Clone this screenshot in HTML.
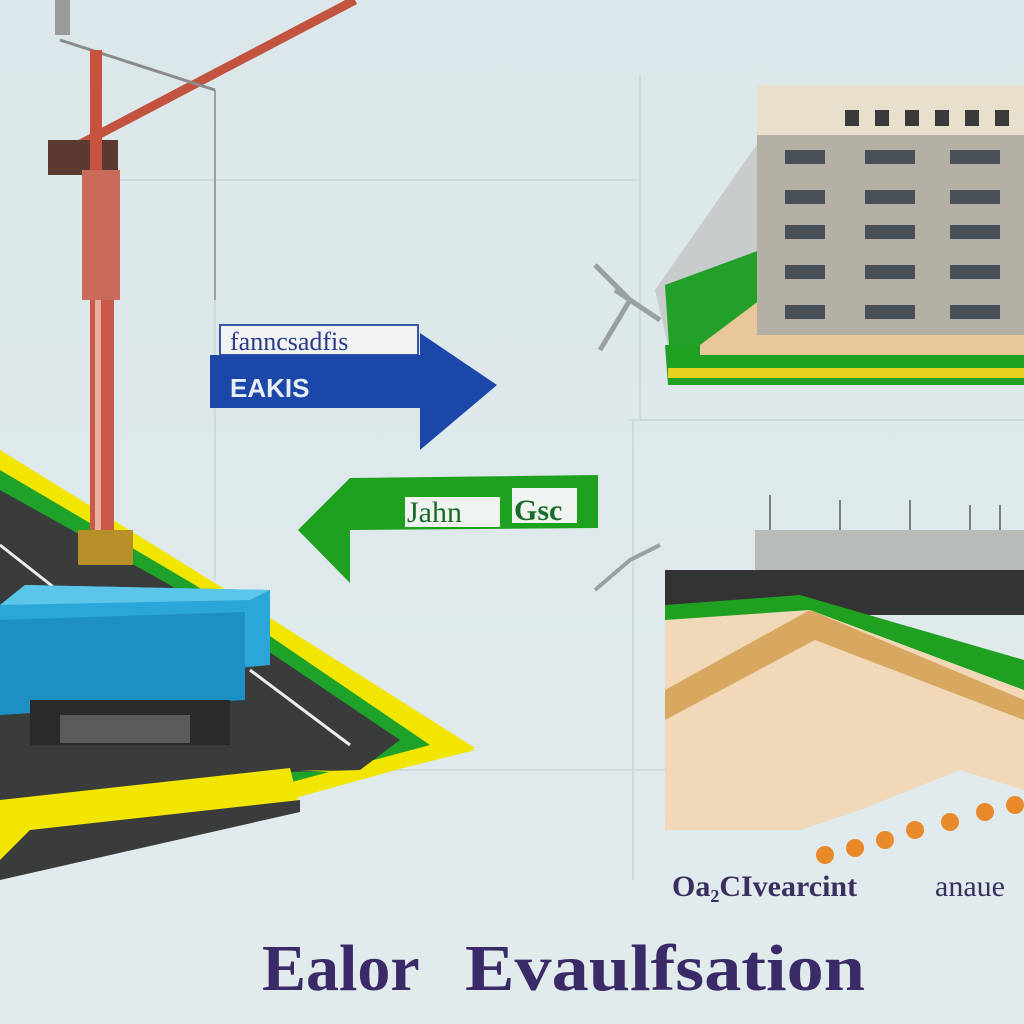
<!DOCTYPE html>
<html><head><meta charset="utf-8"><style>
html,body{margin:0;padding:0;background:#dfe9eb;}
svg{display:block}
</style></head><body>
<svg width="1024" height="1024" viewBox="0 0 1024 1024" xmlns="http://www.w3.org/2000/svg">
<defs>
<linearGradient id="bg" x1="0" y1="0" x2="0" y2="1"><stop offset="0" stop-color="#dbe7ea"/><stop offset="1" stop-color="#e2ebec"/></linearGradient>
</defs>
<rect width="1024" height="1024" fill="url(#bg)"/>
<!-- faint grid lines -->
<g stroke="#c9d5d8" stroke-width="1.5" fill="none">
<line x1="120" y1="180" x2="640" y2="180"/>
<line x1="640" y1="75" x2="640" y2="420"/>
<line x1="628" y1="420" x2="1024" y2="420"/>
<line x1="215" y1="100" x2="215" y2="580"/>
<line x1="633" y1="420" x2="633" y2="880"/>
<line x1="380" y1="770" x2="665" y2="770"/>
</g>
<!-- road -->
<polygon points="0,450 210,580 475,748 0,880" fill="#f2e600"/>
<polygon points="0,470 195,585 430,745 0,860" fill="#1fa22a"/>
<polygon points="0,490 170,585 400,740 360,770 290,772 295,800 30,830 0,830" fill="#3a3b3b"/>
<polygon points="300,770 380,772 460,745 475,750 375,775" fill="#f2e600"/>
<polygon points="0,800 290,768 298,800 0,860" fill="#f2e600"/>
<polygon points="0,860 30,830 300,800 300,812 0,880" fill="#3a3b3b"/>
<line x1="0" y1="545" x2="70" y2="600" stroke="#eee" stroke-width="3"/>
<line x1="250" y1="670" x2="350" y2="745" stroke="#eee" stroke-width="3"/>
<!-- crane -->
<g>
<line x1="50" y1="160" x2="355" y2="0" stroke="#c2533f" stroke-width="9"/>
<line x1="60" y1="40" x2="215" y2="90" stroke="#8a8a8a" stroke-width="3"/>
<rect x="48" y="140" width="70" height="35" fill="#5a3a30"/>
<rect x="90" y="50" width="12" height="140" fill="#c9523e"/>
<rect x="82" y="170" width="38" height="130" fill="#c96a5a"/>
<rect x="90" y="300" width="24" height="240" fill="#c95a4a"/>
<rect x="95" y="300" width="6" height="240" fill="#e8b0a0"/>
<rect x="78" y="530" width="55" height="35" fill="#b8902a"/>
<rect x="55" y="0" width="15" height="35" fill="#9a9a9a"/>
<line x1="215" y1="90" x2="215" y2="300" stroke="#888" stroke-width="1.5"/>
</g>
<!-- truck -->
<polygon points="0,605 25,585 270,590 270,665 0,690" fill="#2aa6d8"/>
<polygon points="0,605 250,600 270,590 25,585" fill="#5cc6ea"/>
<polygon points="0,620 245,612 245,700 0,715" fill="#1c8fc4"/>
<rect x="30" y="700" width="200" height="45" fill="#2a2a2a"/>
<rect x="60" y="715" width="130" height="28" fill="#5a5a5a"/>
<!-- blue arrow -->
<rect x="220" y="325" width="198" height="30" fill="#f0f2f4" stroke="#3a55a0" stroke-width="2"/>
<text x="230" y="350" font-family="Liberation Serif, serif" font-size="26" fill="#2a3a88">fanncsadfis</text>
<polygon points="210,355 420,355 420,333 497,385 420,450 420,408 210,408" fill="#1b47a8"/>
<text x="230" y="397" font-family="Liberation Sans, sans-serif" font-size="26" font-weight="bold" fill="#e8eef8">EAKIS</text>
<!-- green arrow -->
<polygon points="598,475 598,528 350,530 350,583 298,530 350,478" fill="#1ea11e"/>
<rect x="405" y="497" width="95" height="30" fill="#f0f4f0"/>
<text x="407" y="522" font-family="Liberation Serif, serif" font-size="30" fill="#1a6a2a">Jahn</text>
<rect x="512" y="488" width="65" height="35" fill="#f0f4f0"/>
<text x="514" y="520" font-family="Liberation Serif, serif" font-size="30" font-weight="bold" fill="#1a6a2a">Gsc</text>
<!-- building top right -->
<polygon points="655,290 760,140 760,330 668,345" fill="#c8cccc"/>
<polygon points="665,285 760,250 760,330 670,360" fill="#22a02a"/>
<polygon points="665,345 1024,345 1024,385 668,385" fill="#20a020"/>
<rect x="668" y="368" width="356" height="10" fill="#e6d020"/>
<polygon points="700,345 760,300 1024,300 1024,355 700,355" fill="#e8c898"/>
<rect x="757" y="85" width="267" height="250" fill="#b5b0a5"/>
<rect x="757" y="85" width="267" height="50" fill="#e8e0cc"/>
<g fill="#3a3a3a">
<rect x="845" y="110" width="14" height="16"/><rect x="875" y="110" width="14" height="16"/><rect x="905" y="110" width="14" height="16"/><rect x="935" y="110" width="14" height="16"/><rect x="965" y="110" width="14" height="16"/><rect x="995" y="110" width="14" height="16"/>
</g>
<g fill="#4a5058">
<rect x="785" y="150" width="40" height="14"/><rect x="865" y="150" width="50" height="14"/><rect x="950" y="150" width="50" height="14"/>
<rect x="785" y="190" width="40" height="14"/><rect x="865" y="190" width="50" height="14"/><rect x="950" y="190" width="50" height="14"/>
<rect x="785" y="225" width="40" height="14"/><rect x="865" y="225" width="50" height="14"/><rect x="950" y="225" width="50" height="14"/>
<rect x="785" y="265" width="40" height="14"/><rect x="865" y="265" width="50" height="14"/><rect x="950" y="265" width="50" height="14"/>
<rect x="785" y="305" width="40" height="14"/><rect x="865" y="305" width="50" height="14"/><rect x="950" y="305" width="50" height="14"/>
</g>
<path d="M595,265 L630,300 L600,350 M615,290 L660,320" stroke="#9aa0a0" stroke-width="5" fill="none"/>
<!-- bottom right -->
<rect x="755" y="530" width="269" height="70" fill="#b8bcb8"/>
<g stroke="#7a8080" stroke-width="2"><line x1="770" y1="495" x2="770" y2="530"/><line x1="840" y1="500" x2="840" y2="530"/><line x1="910" y1="500" x2="910" y2="530"/><line x1="970" y1="505" x2="970" y2="530"/><line x1="1000" y1="505" x2="1000" y2="530"/></g>
<rect x="665" y="570" width="359" height="45" fill="#333"/>
<polygon points="665,605 800,595 1024,660 1024,700 820,620 665,640" fill="#20a020"/>
<polygon points="665,620 810,610 1024,690 1024,790 960,770 860,810 800,830 665,830" fill="#f0d8b8"/>
<polygon points="665,690 810,610 1024,700 1024,720 815,640 665,720" fill="#d8a860"/>
<g fill="#e88a2a"><circle cx="825" cy="855" r="9"/><circle cx="855" cy="848" r="9"/><circle cx="885" cy="840" r="9"/><circle cx="915" cy="830" r="9"/><circle cx="950" cy="822" r="9"/><circle cx="985" cy="812" r="9"/><circle cx="1015" cy="805" r="9"/></g>
<path d="M595,590 L630,560 L660,545" stroke="#9aa0a0" stroke-width="4" fill="none"/>
<!-- text -->
<text x="672" y="896" font-family="Liberation Serif, serif" font-size="30" font-weight="bold" fill="#3a3060">Oa₂CIvearcint</text>
<text x="935" y="896" font-family="Liberation Serif, serif" font-size="30" fill="#3a3060">anaue</text>
<text x="262" y="990" font-family="Liberation Serif, serif" font-size="66" font-weight="bold" fill="#3b2a68">Ealor</text>
<text x="465" y="990" font-family="Liberation Serif, serif" font-size="66" font-weight="bold" fill="#3b2a68" textLength="400" lengthAdjust="spacingAndGlyphs">Evaulfsation</text>
</svg>
</body></html>
